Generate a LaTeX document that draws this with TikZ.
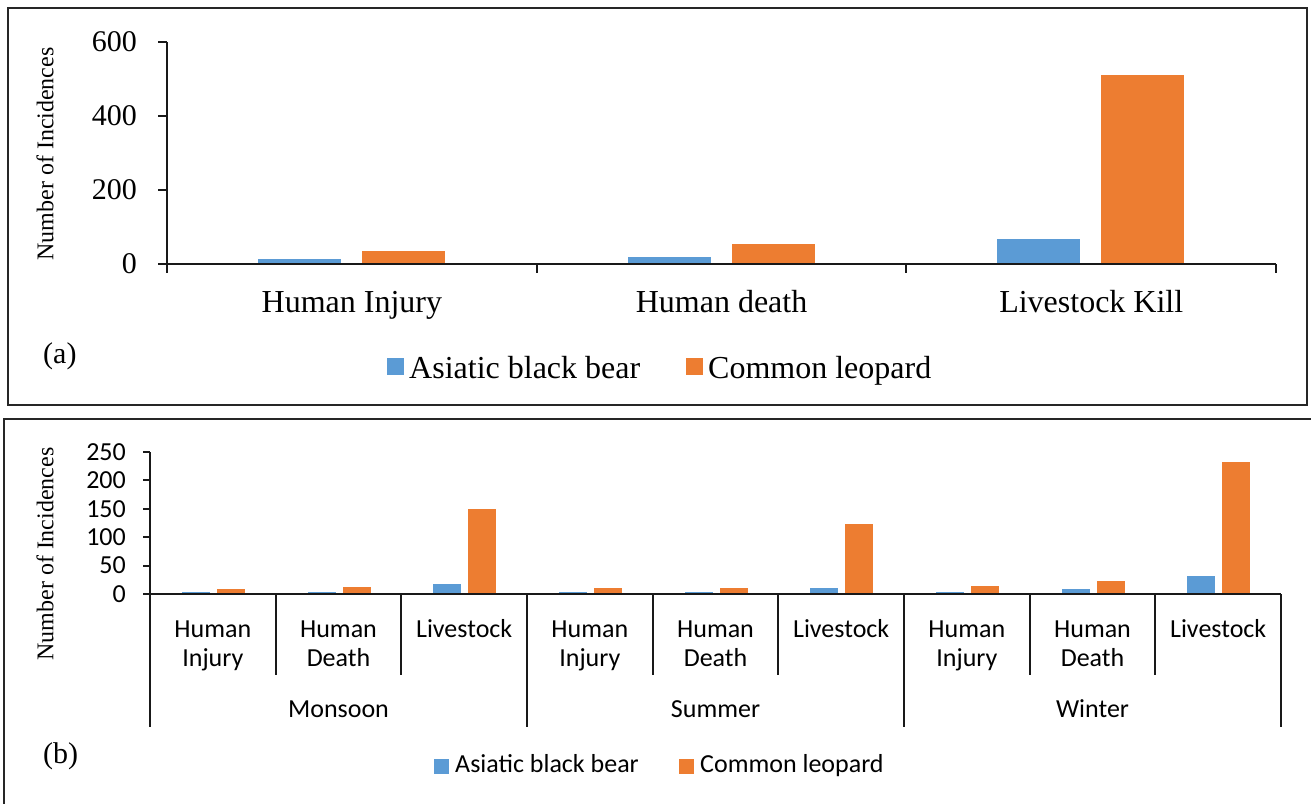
\documentclass[tikz,border=0pt]{standalone}
\usepackage{fontspec}
\setmainfont{Liberation Serif}
\newfontfamily\calibrifont{Carlito}
\usetikzlibrary{positioning}
\definecolor{bearBlue}{HTML}{5B9BD5}
\definecolor{leopardOrange}{HTML}{ED7D31}
\definecolor{frameGray}{HTML}{262626}
\tikzset{
    panel/.style={draw=frameGray, line width=2pt},
    axisline/.style={draw=black!90, line width=2pt},
    tickA/.style={font=\fontsize{30}{36}\selectfont},
    catA/.style={font=\fontsize{32}{38}\selectfont},
    legA/.style={font=\fontsize{32}{38}\selectfont},
    tickB/.style={font=\calibrifont\fontsize{26}{30}\selectfont},
    catB/.style={font=\calibrifont\fontsize{26}{30}\selectfont},
    legB/.style={font=\calibrifont\fontsize{26}{30}\selectfont},
    ylab/.style={font=\fontsize{24}{28}\selectfont, rotate=90},
    tag/.style={font=\fontsize{30}{36}\selectfont}
}

\begin{document}
\begin{tikzpicture}[x=1pt, y=-1pt, inner sep=0pt]
    \useasboundingbox (0,0) rectangle (1311,803);
    \pgfmathsetmacro{\catWA}{369.7}
    \pgfmathsetmacro{\unitA}{0.37}
    \pgfmathsetmacro{\catWB}{125.67}
    \pgfmathsetmacro{\unitB}{0.569}

    % panel (a)
    \draw[panel] (8,8) rectangle (1307,405);
    \foreach \i/\name/\vb/\vo in {0/Human Injury/14/36, 1/Human death/19/54, 2/Livestock Kill/67/511} {
        \pgfmathsetmacro{\c}{167+\catWA*(\i+0.5)}
        \fill[bearBlue] ({\c-94},264) rectangle ({\c-11},{264-\unitA*\vb});
        \fill[leopardOrange] ({\c+10},264) rectangle ({\c+93},{264-\unitA*\vo});
        \node[catA, anchor=base] (catA\i) at (\c,312) {\name};
    }
    \draw[axisline] (167,42) -- (167,264) -- (1276,264);
    \foreach \v in {0,200,400,600} {
        \pgfmathsetmacro{\ty}{264-\unitA*\v}
        \draw[axisline] (158,\ty) -- (167,\ty);
        \node[tickA, anchor=east] (tickA\v) at (137,\ty) {\v};
    }
    \foreach \i in {0,...,3}
        \draw[axisline] ({167+\catWA*\i},264) -- ++(0,9);
    \node[ylab] (ylabA) at (45,154) {Number of Incidences};
    \node[tag, anchor=base west] (tagA) at (43,363) {(a)};

    \node[fill=bearBlue, minimum size=17pt] (legA1) at (395,366) {};
    \node[legA, anchor=base west] (legA1t) at (409,378) {Asiatic black bear};
    \node[fill=leopardOrange, minimum size=17pt] (legA2) at (694,366) {};
    \node[legA, anchor=base west] (legA2t) at (708,378) {Common leopard};

    % panel (b)
    \draw[panel] (1313,419) -- (4,419) -- (4,805);
    \foreach \i/\vb/\vo in {0/4/8, 1/4/13, 2/17/150, 3/3/10, 4/3/10, 5/10/123, 6/3/14, 7/8/23, 8/32/232} {
        \pgfmathsetmacro{\c}{150+\catWB*(\i+0.5)}
        \fill[bearBlue] ({\c-31},594) rectangle ({\c-3},{594-\unitB*\vb});
        \fill[leopardOrange] ({\c+4},594) rectangle ({\c+32},{594-\unitB*\vo});
    }
    \draw[axisline] (150,452) -- (150,594) -- (1281,594);
    \foreach \v in {0,50,...,250} {
        \pgfmathsetmacro{\ty}{594-\unitB*\v}
        \draw[axisline] (143,\ty) -- (150,\ty);
        \node[tickB, anchor=east] (tickB\v) at (126,\ty) {\v};
    }
    \foreach \i in {1,2,4,5,7,8}
        \draw[axisline] ({150+\catWB*\i},594) -- ({150+\catWB*\i},675);
    \foreach \i in {0,3,6,9}
        \draw[axisline] ({150+\catWB*\i},594) -- ({150+\catWB*\i},727);
    \foreach \i/\upper/\lower in {0/Human/Injury, 1/Human/Death, 2/Livestock/{}, 3/Human/Injury, 4/Human/Death, 5/Livestock/{}, 6/Human/Injury, 7/Human/Death, 8/Livestock/{}} {
        \pgfmathsetmacro{\c}{150+\catWB*(\i+0.5)}
        \node[catB, anchor=base] (catB\i u) at (\c,637) {\upper};
        \node[catB, anchor=base] (catB\i l) at (\c,666) {\lower};
    }
    \foreach \j/\season in {0/Monsoon, 1/Summer, 2/Winter} {
        \pgfmathsetmacro{\c}{150+\catWB*(3*\j+1.5)}
        \node[catB, anchor=base] (season\j) at (\c,717) {\season};
    }
    \node[ylab] (ylabB) at (45,554) {Number of Incidences};
    \node[tag, anchor=base west] (tagB) at (43,763) {(b)};

    \node[fill=bearBlue, minimum size=15pt] (legB1) at (441.5,766) {};
    \node[legB, anchor=base west] (legB1t) at (455,772.5) {Asiatic black bear};
    \node[fill=leopardOrange, minimum size=15pt] (legB2) at (686,766) {};
    \node[legB, anchor=base west] (legB2t) at (700,772.5) {Common leopard};
\end{tikzpicture}
\end{document}
